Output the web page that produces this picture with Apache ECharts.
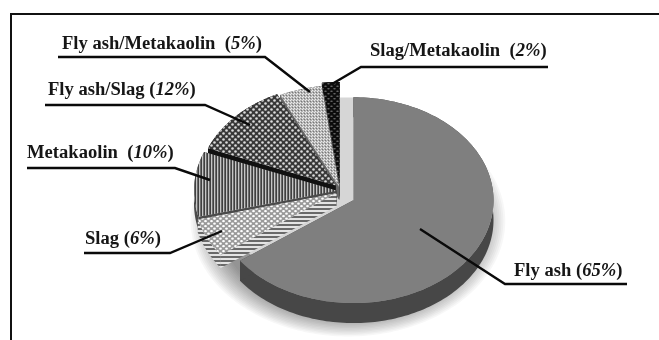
<!DOCTYPE html>
<html><head><meta charset="utf-8">
<style>html,body{margin:0;padding:0;background:#fff}#c{width:659px;height:340px;filter:blur(0.45px)}</style>
<script src="https://cdn.jsdelivr.net/npm/echarts@6/dist/echarts.min.js"></script>
</head><body><div id="c"></div>
<script>
// data, clockwise from 12 o'clock
const categories = ['Fly ash','Slag','Metakaolin','Fly ash/Slag','Fly ash/Metakaolin','Slag/Metakaolin'];
const values = [65,6,10,12,5,2];

// layout and style (not data)
const CX=340, CY=191, RX=143, RY=105;
const explode=[15,4,3,6,3,3];
const radiusScale=[0.98,1,1,0.96,0.97,1];
const depth=[20,13,13,13,13,13];
const paintOrder=[5,4,3,2,1,0];
const labelX=[514,85,27,48,62,370];
const labelY=[271,239,153,90,44,51];
const gapText=[' (',' (','  (',' (','  (','  ('];
const leaders=[
 [[420,229],[505,284],[627,284]],
 [[222,231],[170,253],[84,253]],
 [[210,180],[175,168],[27,168]],
 [[250,125],[205,105],[45,105]],
 [[310,92],[265,57],[58,57]],
 [[332,84],[361,67],[548,67]]
];
function tile(w,h,draw){const c=document.createElement('canvas');c.width=w;c.height=h;draw(c.getContext('2d'));return {image:c,repeat:'repeat'};}
function oval(g,x,y,rx,ry,col){g.fillStyle=col;g.beginPath();g.ellipse(x,y,rx,ry,0,0,Math.PI*2);g.fill();}
const fills=[
 '#7f7f7f',
 tile(6,5,g=>{g.fillStyle='#9a9a9a';g.fillRect(0,0,6,5);oval(g,1.5,1.2,1.4,1.1,'#fff');oval(g,4.5,3.7,1.4,1.1,'#fff');}),
 tile(3,3,g=>{g.fillStyle='#404040';g.fillRect(0,0,3,3);g.fillStyle='#c6c6c6';g.fillRect(1,0,1,3);g.fillStyle='#6c6c6c';g.fillRect(2,0,1,3);}),
 tile(6,6,g=>{g.fillStyle='#383838';g.fillRect(0,0,6,6);oval(g,1.5,1.5,1.3,1.3,'#dcdcdc');oval(g,4.5,4.5,1.3,1.3,'#dcdcdc');}),
 tile(3,3,g=>{g.fillStyle='#b4b4b4';g.fillRect(0,0,3,3);g.fillStyle='#ececec';g.fillRect(0,0,1,1);g.fillRect(2,1,1,1);g.fillStyle='#777';g.fillRect(1,2,1,1);}),
 tile(6,5,g=>{g.fillStyle='#0c0c0c';g.fillRect(0,0,6,5);oval(g,1.5,1.2,1.3,.8,'#6a6a6a');oval(g,4.5,3.7,1.3,.8,'#6a6a6a');})
];
const wallFills=[
 '#474747',
 tile(4,4,g=>{g.fillStyle='#e4e4e4';g.fillRect(0,0,4,4);g.fillStyle='#6a6a6a';g.fillRect(0,0,4,2);}),
 '#4a4a4a','#111','#666','#222'
];

const total=values.reduce((a,b)=>a+b,0);
let acc=0;
const starts=values.map(v=>{const s=acc;acc+=v;return s/total*Math.PI*2;});
function arcPts(cx,cy,a0,a1,k){const n=Math.max(4,Math.ceil((a1-a0)*40)),p=[];
 for(let i=0;i<=n;i++){const a=a0+(a1-a0)*i/n;p.push([cx+k*RX*Math.sin(a),cy-k*RY*Math.cos(a)]);}return p;}
function renderSlice(params,api){
 const idx=params.dataIndex,val=api.value(1);
 const a0=starts[idx],a1=a0+val/total*Math.PI*2,mid=(a0+a1)/2;
 const cx=CX+explode[idx]*Math.sin(mid),cy=CY-explode[idx]*1.35*Math.cos(mid),d=depth[idx];
 const arc=arcPts(cx,cy,a0,a1,radiusScale[idx]),z=paintOrder[idx]*3;
 const lo=arc.map(p=>[p[0],p[1]+d]);
 const wall=(pts)=>({type:'polygon',z2:z,shape:{points:pts},style:{fill:wallFills[idx],stroke:null}});
 const first=arc[0],last=arc[arc.length-1];
 return {type:'group',children:[
  wall(arc.concat(lo.slice().reverse())),
  wall([[cx,cy],first,[first[0],first[1]+d],[cx,cy+d]]),
  wall([[cx,cy],last,[last[0],last[1]+d],[cx,cy+d]]),
  {type:'polygon',z2:z+1,shape:{points:[[cx,cy]].concat(arc)},style:{fill:fills[idx],stroke:null}}
 ]};
}
function renderLabel(params,api){
 const idx=params.dataIndex;
 return {type:'group',children:[
  {type:'polyline',z2:100,shape:{points:leaders[idx]},style:{fill:null,stroke:'#0a0a0a',lineWidth:2.4}},
  {type:'text',z2:101,style:{x:labelX[idx],y:labelY[idx],verticalAlign:'middle',align:'left',
    text:'{b|'+categories[idx]+gapText[idx]+'}{i|'+api.value(1)+'%}{b|)}',
    rich:{b:{font:'bold 18.6px "Liberation Serif"',fill:'#161616'},i:{font:'italic bold 18.6px "Liberation Serif"',fill:'#161616'}}}}
 ]};
}
function renderShadow(params,api){
 const children=[];
 const steps=16;
 for(let i=0;i<steps;i++){
  const k=1.10-0.2*i/(steps-1);
  children.push({type:'polygon',z2:-20+i,shape:{points:arcPts(348,221,0,Math.PI*2,k)},style:{fill:'rgba(0,0,0,0.03)',stroke:null}});
 }
 children.push({type:'polygon',z2:-1,shape:{points:arcPts(347,192,0,Math.PI*2,0.9)},style:{fill:'#d6d6d6',stroke:null}});
 return {type:'group',children};
}
const rows=categories.map((c,i)=>[c,values[i]]);
const chart=echarts.init(document.getElementById('c'),null,{renderer:'canvas'});
chart.setOption({
 animation:false,backgroundColor:'#fff',
 graphic:[
  {type:'line',shape:{x1:10,y1:14,x2:659,y2:14},style:{stroke:'#111',lineWidth:2}},
  {type:'line',shape:{x1:11,y1:13,x2:11,y2:340},style:{stroke:'#111',lineWidth:2}}
 ],
 series:[
  {type:'custom',coordinateSystem:'none',silent:true,z:1,data:[0],renderItem:renderShadow},
  {type:'custom',coordinateSystem:'none',silent:true,z:2,data:rows,renderItem:renderSlice,encode:{itemName:0,value:1}},
  {type:'custom',coordinateSystem:'none',silent:true,z:3,data:rows,renderItem:renderLabel,encode:{itemName:0,value:1}}
 ]
});
</script></body></html>
